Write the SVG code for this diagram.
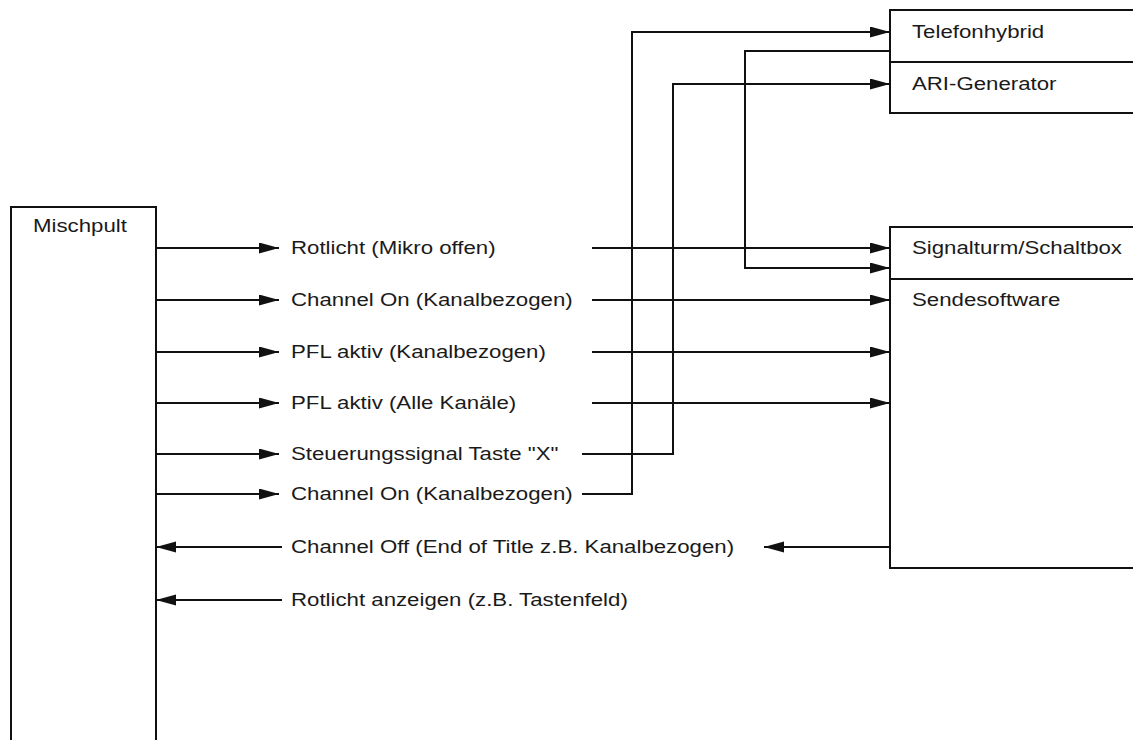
<svg xmlns="http://www.w3.org/2000/svg" width="1133" height="740" viewBox="0 0 1133 740">
  <style>
    .box { fill: #ffffff; stroke: #111111; stroke-width: 2; }
    .sep { stroke: #111111; stroke-width: 2; fill: none; }
    .wire { fill: none; stroke: #111111; stroke-width: 2; }
    .arr { marker-end: url(#head); }
    text { font-family: "Liberation Sans", Arial, sans-serif; font-size: 17.5px; fill: #1a1a1a; }
  </style>
  <defs>
    <marker id="head" markerUnits="userSpaceOnUse" markerWidth="21" markerHeight="12" refX="20" refY="5.5" orient="auto">
      <path d="M0,0 L20,5.5 L0,11 Z" fill="#111111"/>
    </marker>
  </defs>

  <rect width="1133" height="740" fill="#ffffff"/>

  <!-- Mixing desk -->
  <g id="mischpult">
    <rect class="box" x="11" y="207" width="145" height="545"/>
    <text transform="translate(33 232) scale(1.27 1)">Mischpult</text>
  </g>

  <!-- Phone hybrid / ARI generator -->
  <g id="telefon-ari">
    <rect class="box" x="890" y="10" width="260" height="103"/>
    <line class="sep" x1="890" y1="62" x2="1150" y2="62"/>
    <text transform="translate(912 38) scale(1.27 1)">Telefonhybrid</text>
    <text transform="translate(912 90) scale(1.27 1)">ARI-Generator</text>
  </g>

  <!-- Signal tower / playout software -->
  <g id="signalturm-sendesoftware">
    <rect class="box" x="890" y="227" width="260" height="341"/>
    <line class="sep" x1="890" y1="279" x2="1150" y2="279"/>
    <text transform="translate(912 254) scale(1.27 1)">Signalturm/Schaltbox</text>
    <text transform="translate(912 306) scale(1.27 1)">Sendesoftware</text>
  </g>

  <!-- Signal labels -->
  <g id="labels">
    <text transform="translate(291 254) scale(1.27 1)">Rotlicht (Mikro offen)</text>
    <text transform="translate(291 306) scale(1.27 1)">Channel On (Kanalbezogen)</text>
    <text transform="translate(291 358) scale(1.27 1)">PFL aktiv (Kanalbezogen)</text>
    <text transform="translate(291 409) scale(1.27 1)">PFL aktiv (Alle Kanäle)</text>
    <text transform="translate(291 460) scale(1.27 1)">Steuerungssignal Taste "X"</text>
    <text transform="translate(291 500) scale(1.27 1)">Channel On (Kanalbezogen)</text>
    <text transform="translate(291 553) scale(1.27 1)">Channel Off (End of Title z.B. Kanalbezogen)</text>
    <text transform="translate(291 606) scale(1.27 1)">Rotlicht anzeigen (z.B. Tastenfeld)</text>
  </g>

  <!-- Connectors -->
  <g id="connectors">
    <!-- outputs of the mixing desk -->
    <path class="wire arr" d="M156,248 H279"/>
    <path class="wire arr" d="M156,300 H279"/>
    <path class="wire arr" d="M156,352 H279"/>
    <path class="wire arr" d="M156,403 H279"/>
    <path class="wire arr" d="M156,454 H279"/>
    <path class="wire arr" d="M156,494 H279"/>
    <!-- inputs of the mixing desk -->
    <path class="wire arr" d="M282,547 H156"/>
    <path class="wire arr" d="M282,600 H156"/>

    <!-- routing to the right-hand devices -->
    <path class="wire arr" d="M592,248 H890"/>
    <path class="wire arr" d="M592,300 H890"/>
    <path class="wire arr" d="M592,352 H890"/>
    <path class="wire arr" d="M592,403 H890"/>
    <path class="wire arr" d="M582,454 H673 V84 H890"/>
    <path class="wire arr" d="M582,494 H632 V32 H890"/>
    <path class="wire arr" d="M890,51 H745 V268 H890"/>
    <path class="wire arr" d="M890,547 H764"/>
  </g>
</svg>
